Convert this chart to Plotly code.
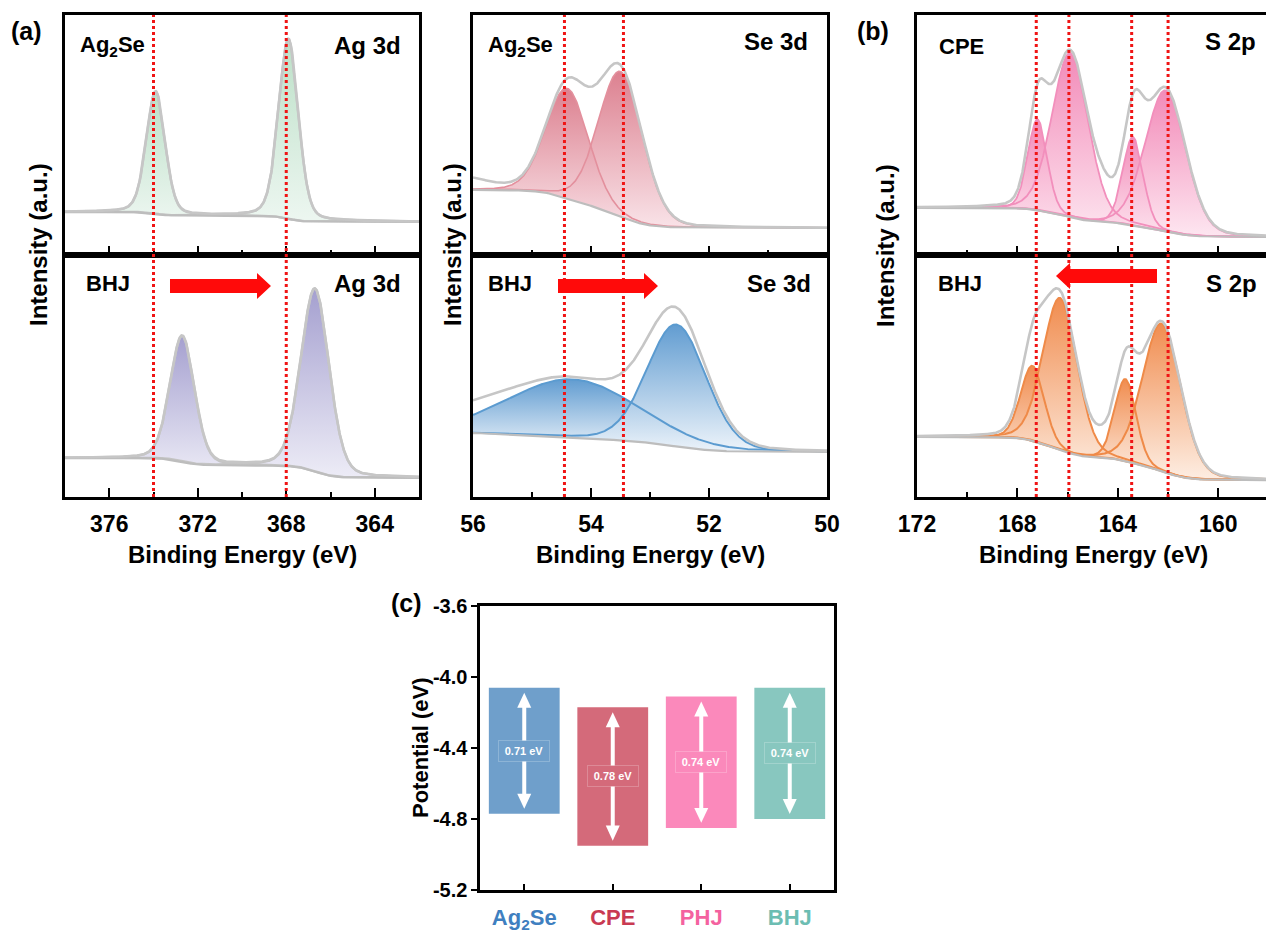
import numpy as np
import plotly.graph_objects as go

W, H = 1266, 932
FONT = "Arial, 'Liberation Sans', Helvetica, sans-serif"

# ---------------- data ----------------
# binding-energy windows (eV), drawn high -> low
ag_window = [378.0, 362.0]
se_window = [56.0, 50.0]
s_window = [172.0, 158.1]

# Ag 3d  (peak centre eV, height a.u., FWHM eV); background [low-BE end, high-BE end]
ag_ag2se_center = [373.9, 367.9]
ag_ag2se_height = [51.0, 75.0]
ag_ag2se_fwhm = [1.0, 1.05]
ag_ag2se_bg = [13.8, 17.9]

ag_bhj_center = [372.7, 366.7]
ag_bhj_height = [52.0, 75.6]
ag_bhj_fwhm = [1.3, 1.5]
ag_bhj_bg = [7.9, 16.1]

ag_ref_lines = [374.0, 368.0]

# Se 3d
se_ag2se_center = [54.4, 53.5]
se_ag2se_height = [45.8, 60.4]
se_ag2se_fwhm = [0.85, 0.88]
se_ag2se_bg = [11.25, 27.1]
se_ag2se_residual = [(56.3, 5.5, 1.2)]      # raw-data excess over the fit

se_bhj_center = [54.3, 52.55]
se_bhj_height = [24.0, 50.4]
se_bhj_fwhm = [2.6, 1.18]
se_bhj_bg = [18.6, 26.4]
se_bhj_residual = [(56.2, 6.0, 2.0)]

se_ref_lines = [54.45, 53.45]

# S 2p
s_cpe_center = [167.2, 165.9, 163.4, 162.1]
s_cpe_height = [37.9, 68.3, 36.7, 58.8]
s_cpe_fwhm = [0.9, 1.7, 0.95, 1.9]
s_cpe_bg = [7.5, 19.6]
s_cpe_residual = [(164.5, 6.0, 0.9)]

s_bhj_center = [167.4, 166.3, 163.7, 162.25]
s_bhj_height = [31.0, 62.8, 33.9, 61.1]
s_bhj_fwhm = [1.1, 1.6, 1.0, 1.8]
s_bhj_bg = [7.0, 24.8]
s_bhj_residual = [(164.65, 4.0, 0.8)]

s_ref_lines = [167.25, 165.95, 163.45, 162.0]

# (c) band positions
band_names = ["Ag2Se", "CPE", "PHJ", "BHJ"]
band_labels = ["Ag<sub>2</sub>Se", "CPE", "PHJ", "BHJ"]
band_top = [-4.06, -4.17, -4.11, -4.06]
band_gap = [0.71, 0.78, 0.74, 0.74]
band_colors = ["#6f9fcb", "#d46a7a", "#fb89bb", "#88c7bf"]
band_text_colors = ["#3f7fc0", "#c93a52", "#f4629f", "#6cbdb2"]
pot_ticks = [-5.2, -4.8, -4.4, -4.0, -3.6]
pot_range = [-5.2, -3.6]


# ---------------- helpers ----------------
def pv(x, c, h, f, eta):
    t = (x - c) / f
    return h * ((1 - eta) * np.exp(-4 * np.log(2) * t * t) + eta / (1 + 4 * t * t))


def build(window, centers, heights, fwhms, eta, bg_ends, residual=()):
    lo, hi = min(window), max(window)
    g = np.linspace(lo, hi, 900)
    comps = [pv(g, c, h, f, eta) for c, h, f in zip(centers, heights, fwhms)]
    tot = np.sum(comps, axis=0)
    frac = np.cumsum(tot)
    frac = frac / frac[-1]
    bg = bg_ends[0] + (bg_ends[1] - bg_ends[0]) * frac   # Shirley-type step background
    env = bg + tot
    for c, h, f in residual:
        env = env + pv(g, c, h, f, 0.0)
    return g, bg, comps, env


def px(x):
    return x / W


def py(y):
    return 1 - y / H


fig = go.Figure()


def add_panel(xa, ya, data, grad_top, grad_bot, comp_line, comp_lw):
    g, bg, comps, env = data
    for c in comps:
        fig.add_trace(go.Scatter(
            x=np.r_[g, g[::-1]], y=np.r_[bg + c, bg[::-1]],
            mode="lines", fill="toself", line=dict(width=0),
            fillgradient=dict(type="vertical", colorscale=[[0, grad_bot], [1, grad_top]]),
            xaxis=xa, yaxis=ya, hoverinfo="skip", showlegend=False))
    for c in comps:
        fig.add_trace(go.Scatter(
            x=g, y=bg + c, mode="lines", line=dict(color=comp_line, width=comp_lw),
            xaxis=xa, yaxis=ya, hoverinfo="skip", showlegend=False))
    fig.add_trace(go.Scatter(x=g, y=bg, mode="lines", line=dict(color="#bdbdbd", width=2.2),
                             xaxis=xa, yaxis=ya, hoverinfo="skip", showlegend=False))
    fig.add_trace(go.Scatter(x=g, y=env, mode="lines", line=dict(color="#c6c6c6", width=2.6),
                             xaxis=xa, yaxis=ya, hoverinfo="skip", showlegend=False))


add_panel("x", "y", build(ag_window, ag_ag2se_center, ag_ag2se_height, ag_ag2se_fwhm, 0.25, ag_ag2se_bg),
          "rgba(184,222,196,0.95)", "rgba(236,246,240,0.95)", "#c4c4c4", 2.4)
add_panel("x2", "y2", build(ag_window, ag_bhj_center, ag_bhj_height, ag_bhj_fwhm, 0.2, ag_bhj_bg),
          "rgba(160,155,205,0.95)", "rgba(236,235,246,0.95)", "#c4c4c4", 2.4)
add_panel("x3", "y3", build(se_window, se_ag2se_center, se_ag2se_height, se_ag2se_fwhm, 0.12, se_ag2se_bg,
                            se_ag2se_residual),
          "rgba(214,106,124,0.85)", "rgba(248,222,228,0.85)", "#e3909d", 1.6)
add_panel("x4", "y4", build(se_window, se_bhj_center, se_bhj_height, se_bhj_fwhm, 0.12, se_bhj_bg,
                            se_bhj_residual),
          "rgba(84,148,205,0.92)", "rgba(236,243,250,0.92)", "#5b9bd0", 2.0)
add_panel("x5", "y5", build(s_window, s_cpe_center, s_cpe_height, s_cpe_fwhm, 0.15, s_cpe_bg, s_cpe_residual),
          "rgba(240,118,172,0.85)", "rgba(253,226,238,0.85)", "#f28fbc", 1.8)
add_panel("x6", "y6", build(s_window, s_bhj_center, s_bhj_height, s_bhj_fwhm, 0.15, s_bhj_bg, s_bhj_residual),
          "rgba(239,128,60,0.9)", "rgba(253,236,224,0.9)", "#ef8a48", 2.0)

# ---------------- bars (c) ----------------
band_bottom = [t - g for t, g in zip(band_top, band_gap)]
xpos = list(range(len(band_names)))
fig.add_trace(go.Bar(x=xpos, y=band_gap, base=band_bottom, width=0.8,
                     marker=dict(color=band_colors, line=dict(width=0)),
                     xaxis="x7", yaxis="y7", hoverinfo="skip", showlegend=False))

# ---------------- axes ----------------
top_dom = [py(255), py(15)]
bot_dom = [py(497), py(255)]
ag_dom = [px(65), px(419)]
se_dom = [px(473), px(827)]
s_dom = [px(917), 1.0]
C_L, C_R, C_T, C_B = 480, 834, 606, 890      # panel (c) frame, pixels

tickfont = dict(family=FONT, size=23, color="black", weight="bold")


def xps_x(dom, rng, dtick, tick0, mdtick, labels, anchor):
    return dict(domain=dom, range=rng, anchor=anchor, showline=True, linecolor="black", linewidth=2.6,
                mirror=True, ticks="inside", ticklen=9, tickwidth=2, tickcolor="black",
                tickmode="linear", dtick=dtick, tick0=tick0,
                minor=dict(ticks="inside", ticklen=5, tickwidth=2, tickcolor="black", dtick=mdtick, tick0=tick0),
                showticklabels=labels, tickfont=tickfont, showgrid=False, zeroline=False,
                ticklabelstandoff=5, fixedrange=True, automargin=False)


def xps_y(dom, anchor, mirror=True):
    return dict(domain=dom, range=[0, 100], anchor=anchor, showline=True, linecolor="black", linewidth=2.6,
                mirror=mirror, ticks="", showticklabels=False, showgrid=False, zeroline=False,
                fixedrange=True, automargin=False)


layout = dict(
    width=W, height=H, margin=dict(l=0, r=0, t=0, b=0, pad=0, autoexpand=False), autosize=False,
    paper_bgcolor="white", plot_bgcolor="rgba(0,0,0,0)",
    font=dict(family=FONT, color="black"), showlegend=False,
    xaxis=xps_x(ag_dom, ag_window, 4, 364, 2, False, "y"),
    xaxis2=xps_x(ag_dom, ag_window, 4, 364, 2, True, "y2"),
    xaxis3=xps_x(se_dom, se_window, 2, 50, 1, False, "y3"),
    xaxis4=xps_x(se_dom, se_window, 2, 50, 1, True, "y4"),
    xaxis5=xps_x(s_dom, s_window, 4, 160, 2, False, "y5"),
    xaxis6=xps_x(s_dom, s_window, 4, 160, 2, True, "y6"),
    yaxis=xps_y(top_dom, "x"),
    yaxis2=xps_y(bot_dom, "x2"),
    yaxis3=xps_y(top_dom, "x3"),
    yaxis4=xps_y(bot_dom, "x4"),
    yaxis5=xps_y(top_dom, "x5", False),
    yaxis6=xps_y(bot_dom, "x6", False),
    xaxis7=dict(domain=[px(C_L), px(C_R)], range=[-0.5, 3.5], anchor="y7",
                tickmode="array", tickvals=xpos,
                ticktext=[f"<span style='color:{c}'>{t}</span>" for c, t in zip(band_text_colors, band_labels)],
                tickfont=dict(family=FONT, size=22, weight="bold"),
                ticks="inside", ticklen=6, tickwidth=2, tickcolor="black",
                showline=True, linecolor="black", linewidth=2.6, mirror=True,
                showgrid=False, zeroline=False, ticklabelstandoff=6, fixedrange=True, automargin=False),
    yaxis7=dict(domain=[py(C_B), py(C_T)], range=pot_range, anchor="x7",
                tickmode="array", tickvals=pot_ticks, ticktext=[f"{v:.1f}" for v in pot_ticks],
                tickfont=dict(family=FONT, size=20, color="black", weight="bold"),
                ticks="outside", ticklen=6, tickwidth=2, tickcolor="black",
                showline=True, linecolor="black", linewidth=2.6, mirror=True,
                showgrid=False, zeroline=False, fixedrange=True, automargin=False),
)
fig.update_layout(**layout)

# ---------------- reference lines ----------------
shapes = []
for xr, lines in (("x", ag_ref_lines), ("x3", se_ref_lines), ("x5", s_ref_lines)):
    for v in lines:
        shapes.append(dict(type="line", xref=xr, yref="paper", x0=v, x1=v, y0=py(497), y1=py(15),
                           line=dict(color="#f01414", width=3, dash="dot"), layer="above"))


def poly(pts, color):
    path = "M " + " L ".join(f"{px(a):.5f},{py(b):.5f}" for a, b in pts) + " Z"
    return dict(type="path", xref="paper", yref="paper", path=path,
                fillcolor=color, line=dict(width=0), layer="above")


def block_arrow(x_tail, x_tip, yc, body=14, head=26, head_len=14):
    d = 1 if x_tip > x_tail else -1
    xb = x_tip - d * head_len
    pts = [(x_tail, yc - body / 2), (xb, yc - body / 2), (xb, yc - head / 2), (x_tip, yc),
           (xb, yc + head / 2), (xb, yc + body / 2), (x_tail, yc + body / 2)]
    return poly(pts, "#ff0a0a")


shapes.append(block_arrow(170, 271, 286))
shapes.append(block_arrow(558, 658, 286))
shapes.append(block_arrow(1157, 1056, 276))


# double-headed white arrows inside the bars (positions from the bar axis scale)
def cx(i):
    return C_L + (i + 0.5) / 4 * (C_R - C_L)


def cy(v):
    return C_T + (pot_range[1] - v) / (pot_range[1] - pot_range[0]) * (C_B - C_T)


for i, (t, b) in enumerate(zip(band_top, band_bottom)):
    xc = cx(i)
    y_hi = cy(t) + 5
    y_lo = cy(b) - 5
    hl, hw = 15, 7
    shapes.append(dict(type="line", xref="paper", yref="paper", x0=px(xc), x1=px(xc),
                       y0=py(y_hi + hl - 2), y1=py(y_lo - hl + 2), line=dict(color="white", width=4),
                       layer="above"))
    shapes.append(poly([(xc, y_hi), (xc - hw, y_hi + hl), (xc + hw, y_hi + hl)], "white"))
    shapes.append(poly([(xc, y_lo), (xc - hw, y_lo - hl), (xc + hw, y_lo - hl)], "white"))

fig.update_layout(shapes=shapes)

# ---------------- annotations ----------------
ann = []


def text(x, y, s, size=21, angle=0, color="black", xanchor="center"):
    ann.append(dict(x=px(x), y=py(y), xref="paper", yref="paper", text=s, showarrow=False,
                    textangle=angle, xanchor=xanchor, yanchor="middle",
                    font=dict(family=FONT, size=size, color=color, weight="bold")))


text(26, 31, "(a)", 25)
text(873, 31, "(b)", 25)
text(406, 603, "(c)", 25)

text(112, 46, "Ag<sub>2</sub>Se", 22)
text(367, 45, "Ag 3d", 24)
text(108, 283, "BHJ", 22)
text(367, 283, "Ag 3d", 24)

text(520, 46, "Ag<sub>2</sub>Se", 22)
text(776, 41, "Se 3d", 24)
text(510, 283, "BHJ", 22)
text(779, 283, "Se 3d", 24)

text(961, 46, "CPE", 22)
text(1230, 41, "S 2p", 24)
text(960, 283, "BHJ", 22)
text(1231, 283, "S 2p", 24)

for xc_ in (38, 452, 885):
    text(xc_, 245, "Intensity (a.u.)", 24, -90)
for xc_ in (242, 650, 1093):
    text(xc_, 554, "Binding Energy (eV)", 24)
text(420, 748, "Potential (eV)", 22, -90)

for i, (t, b, gp, col) in enumerate(zip(band_top, band_bottom, band_gap, band_colors)):
    ann.append(dict(x=i, y=(t + b) / 2, xref="x7", yref="y7", text=f"{gp:.2f} eV", showarrow=False,
                    font=dict(family=FONT, size=11, color="white", weight="bold"),
                    width=42, height=12, align="center",
                    bgcolor=col, bordercolor="rgba(255,255,255,0.22)", borderwidth=1, borderpad=4))

fig.update_layout(annotations=ann)

fig.write_html(
    "out.html",
    config={"displayModeBar": False, "staticPlot": True},
    post_script=("document.documentElement.style.margin='0';document.body.style.margin='0';"
                 "document.body.style.padding='0';document.documentElement.style.overflow='hidden';"),
)
